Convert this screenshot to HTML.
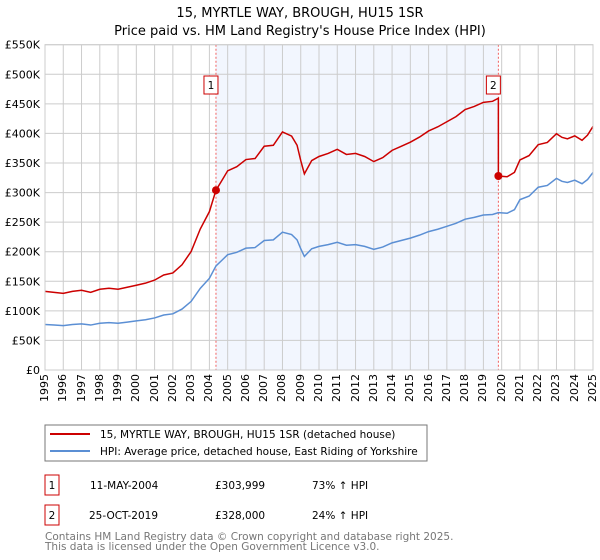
<!DOCTYPE html>
<html><head><meta charset="utf-8"><style>
body{margin:0;background:#fff;font-family:"Liberation Sans","DejaVu Sans",sans-serif;}
#wrap{position:relative;width:600px;height:560px;overflow:hidden;}
svg{position:absolute;left:0;top:0;}
svg text{font-family:"DejaVu Sans","Liberation Sans",sans-serif;}
.xt{position:absolute;top:374px;width:14px;height:32px;font-family:"DejaVu Sans","Liberation Sans",sans-serif;font-size:11px;line-height:14px;writing-mode:vertical-rl;transform:rotate(180deg);text-align:end;white-space:nowrap;color:#000;}
</style></head><body>
<div id="wrap">
<svg id="chart" width="600" height="560" xmlns="http://www.w3.org/2000/svg">
<text x="300" y="17" text-anchor="middle" font-size="13">15, MYRTLE WAY, BROUGH, HU15 1SR</text>
<text x="300" y="35" text-anchor="middle" font-size="13">Price paid vs. HM Land Registry's House Price Index (HPI)</text>
<g id="plot"></g>
<rect x="45" y="425" width="382" height="36" fill="#fff" stroke="#777"/>
<line x1="50" y1="434" x2="90" y2="434" stroke="#cc0000" stroke-width="2"/>
<text x="100" y="438" font-size="10.5">15, MYRTLE WAY, BROUGH, HU15 1SR (detached house)</text>
<line x1="50" y1="451" x2="90" y2="451" stroke="#5b8fd4" stroke-width="2"/>
<text x="100" y="455" font-size="10.5">HPI: Average price, detached house, East Riding of Yorkshire</text>
<rect x="45" y="475" width="14" height="20" fill="#fff" stroke="#cc0000"/>
<text x="52" y="489" font-size="10.5" text-anchor="middle">1</text>
<text x="90" y="489" font-size="10.5">11-MAY-2004</text>
<text x="215" y="489" font-size="10.5">£303,999</text>
<text x="312" y="489" font-size="10.5">73% ↑ HPI</text>
<rect x="45" y="505" width="14" height="20" fill="#fff" stroke="#cc0000"/>
<text x="52" y="519" font-size="10.5" text-anchor="middle">2</text>
<text x="89" y="519" font-size="10.5">25-OCT-2019</text>
<text x="215" y="519" font-size="10.5">£328,000</text>
<text x="312" y="519" font-size="10.5">24% ↑ HPI</text>
<text x="45" y="540" font-size="10.5" fill="#777">Contains HM Land Registry data © Crown copyright and database right 2025.</text>
<text x="45" y="550" font-size="10.5" fill="#777">This data is licensed under the Open Government Licence v3.0.</text>
</svg>
</div>
<script>
const yearTicks=[1995,1996,1997,1998,1999,2000,2001,2002,2003,2004,2005,2006,2007,2008,2009,2010,2011,2012,2013,2014,2015,2016,2017,2018,2019,2020,2021,2022,2023,2024,2025];
const valueTicks=[0,50000,100000,150000,200000,250000,300000,350000,400000,450000,500000,550000];
const valueLabels=["£0","£50K","£100K","£150K","£200K","£250K","£300K","£350K","£400K","£450K","£500K","£550K"];
const hpiDates=[
1995,1995.5,1996,1996.5,1997,1997.5,1998,1998.5,1999,1999.5,
2000,2000.5,2001,2001.5,2002,2002.5,2003,2003.5,2004,2004.36,
2004.7,2005,2005.5,2006,2006.5,2007,2007.5,2008,2008.5,2008.8,
2009,2009.2,2009.6,2010,2010.5,2011,2011.5,2012,2012.5,2013,
2013.5,2014,2014.5,2015,2015.5,2016,2016.5,2017,2017.5,2018,
2018.5,2019,2019.5,2019.82,2020.3,2020.7,2021,2021.5,2022,2022.5,
2023,2023.3,2023.6,2024,2024.4,2024.7,2025];
const hpiValues=[
77000,76000,75000,77000,78000,76000,79000,80000,79000,81000,
83000,85000,88000,93000,95000,103000,116000,138000,155000,176000,
186000,195000,199000,206000,207000,219000,220000,233000,229000,220000,
205000,192000,205000,209000,212000,216000,211000,212000,209000,204000,
208000,215000,219000,223000,228000,234000,238000,243000,248000,255000,
258000,262000,263000,266000,265000,271000,288000,294000,309000,312000,
324000,319000,317000,321000,315000,322000,334000];
const sale1Date=2004.36, sale1Price=303999;
const sale2Date=2019.82, sale2Price=328000;

const L=45,R=593,T=44.7,B=370;
const x=d=>L+(d-1995)/(2025-1995)*(R-L);
const y=v=>B-v/550000*(B-T);
const g=document.getElementById('plot');
const wrapDiv=document.getElementById('wrap');
const NS='http://www.w3.org/2000/svg';
function mk(t,a){const e=document.createElementNS(NS,t);for(const k in a)e.setAttribute(k,a[k]);g.appendChild(e);return e;}

const shade=mk('rect',{x:x(sale1Date),y:T,width:x(sale2Date)-x(sale1Date),height:B-T,fill:'#eef3fd',opacity:0.75});


yearTicks.forEach(d=>{
  const l=mk('line',{x1:x(d),x2:x(d),y1:T,y2:B,stroke:'#ccc','stroke-width':1});
  
  
  const t=document.createElement('div');
  t.className='xt';
  t.style.left=(x(d)-7)+'px';
  t.textContent=d;
  
  
  wrapDiv.appendChild(t);
});
valueTicks.forEach((v,i)=>{
  const l=mk('line',{x1:L,x2:R,y1:y(v),y2:y(v),stroke:'#ccc','stroke-width':1});
  
  
  const t=mk('text',{x:40,y:y(v)+4,'text-anchor':'end','font-size':11});
  t.textContent=valueLabels[i];
  
  
});
[sale1Date,sale2Date].forEach(d=>{
  const l=mk('line',{x1:x(d),x2:x(d),y1:T,y2:B,stroke:'#f06060','stroke-width':1,'stroke-dasharray':'2,2'});
  
  
});
function interp(d){for(let i=1;i<hpiDates.length;i++){if(d<=hpiDates[i]){const f=(d-hpiDates[i-1])/(hpiDates[i]-hpiDates[i-1]);return hpiValues[i-1]+f*(hpiValues[i]-hpiValues[i-1]);}}return hpiValues[hpiValues.length-1];}
const f1=sale1Price/interp(sale1Date), f2=sale2Price/interp(sale2Date);
const hp=mk('polyline',{points:hpiDates.map((d,i)=>x(d)+','+y(hpiValues[i])).join(' '),fill:'none',stroke:'#5b8fd4','stroke-width':1.5});


let pts=[];
hpiDates.forEach((d,i)=>{
  if(d<sale2Date)pts.push(x(d)+','+y(hpiValues[i]*f1));
  if(d===sale2Date||(i>0&&hpiDates[i-1]<sale2Date&&d>sale2Date)){pts.push(x(sale2Date)+','+y(interp(sale2Date)*f1));pts.push(x(sale2Date)+','+y(sale2Price));}
  if(d>sale2Date)pts.push(x(d)+','+y(hpiValues[i]*f2));
});
const pl=mk('polyline',{points:pts.join(' '),fill:'none',stroke:'#cc0000','stroke-width':1.5});


[[sale1Date,sale1Price,'1'],[sale2Date,sale2Price,'2']].forEach(([d,p,n])=>{
  const c=mk('circle',{cx:x(d),cy:y(p),r:4,fill:'#cc0000'});
  
  
  const b=mk('rect',{x:x(d)-12,y:76,width:14,height:18,fill:'#fff',stroke:'#cc0000'});
  
  
  const t=mk('text',{x:x(d)-5,y:89,'text-anchor':'middle','font-size':10.5});
  t.textContent=n;
});
const fr=mk('rect',{x:L,y:T,width:R-L,height:B-T,fill:'none',stroke:'#ccc'});


</script>
</body></html>
